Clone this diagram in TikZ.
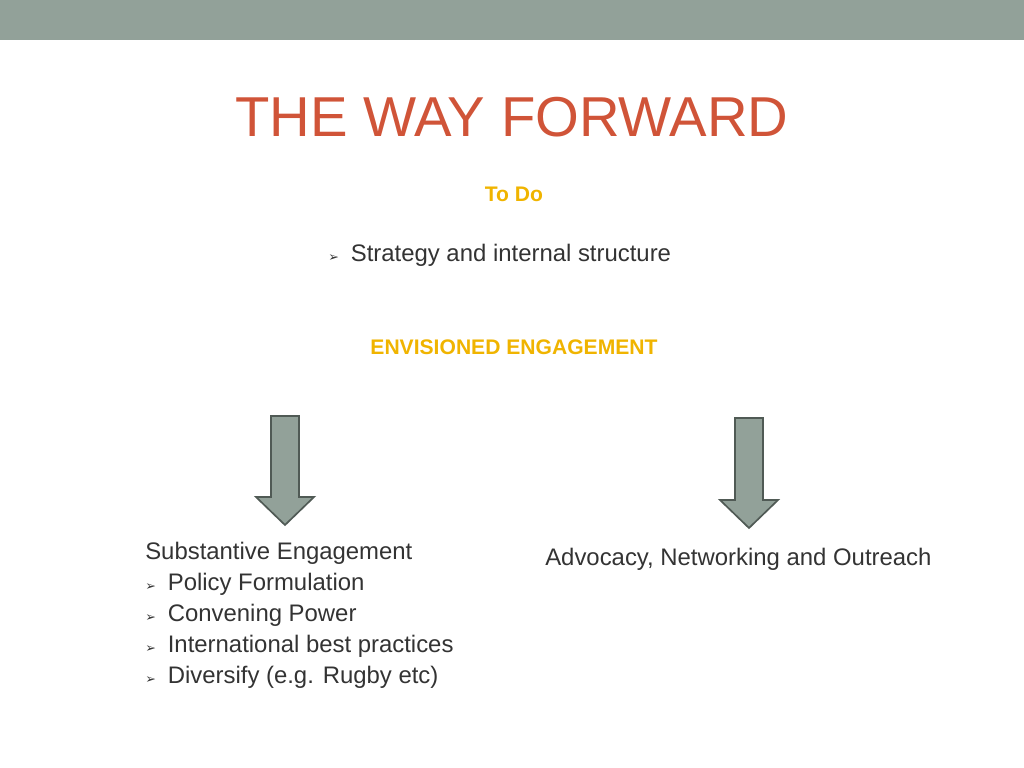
\documentclass[tikz,border=0pt]{standalone}
\usepackage{fontspec}
\setmainfont{Liberation Sans}
\newfontfamily\symfont{DejaVu Sans}
\usepackage{xcolor}
\definecolor{bandg}{RGB}{146,161,153}
\definecolor{titler}{RGB}{208,84,56}
\definecolor{heady}{RGB}{240,180,0}
\definecolor{arrowe}{RGB}{80,90,85}
\newcommand{\bul}{{\symfont\small ➢}\hspace{0.5em}}

\begin{document}
\begin{tikzpicture}[x=0.025cm,y=-0.025cm,
  body/.style={font=\fontsize{17}{21}\selectfont,text=black!80,inner sep=0pt},
  head/.style={font=\fontsize{15}{18}\selectfont\bfseries,text=heady,inner sep=0pt},
  blockarrow/.style={fill=bandg,draw=arrowe,line width=1.2pt}]
\useasboundingbox (0,0) rectangle (1024,768);
\fill[bandg] (0,0) rectangle (1024,40);
\node[font=\fontsize{40}{44}\selectfont,text=titler,inner sep=0pt] (title) at (512,117) {THE WAY FORWARD};
\node[head] (todo) at (514,194) {To Do};
\node[body,anchor=west] (strategy) at (328,255) {\bul Strategy and internal structure};
\node[head] (envision) at (514,347) {ENVISIONED ENGAGEMENT};
% left block arrow
\draw[blockarrow] (271,416) -- (299,416) -- (299,497) -- (314,497) -- (285,525)
  -- (256,497) -- (271,497) -- cycle;
% right block arrow
\draw[blockarrow] (735,418) -- (763,418) -- (763,500) -- (778,500) -- (749,528)
  -- (720,500) -- (735,500) -- cycle;
\node[body,anchor=west] (subst) at (145,553) {Substantive Engagement};
\node[body,anchor=west] (policy) at (145,584) {\bul Policy Formulation};
\node[body,anchor=west] (convene) at (145,615) {\bul Convening Power};
\node[body,anchor=west] (intl) at (145,646) {\bul International best practices};
\node[body,anchor=west] (divers) at (145,677) {\bul Diversify (e.g. Rugby etc)};
\node[body,anchor=west] (advocacy) at (545,559) {Advocacy, Networking and Outreach};
\end{tikzpicture}
\end{document}
